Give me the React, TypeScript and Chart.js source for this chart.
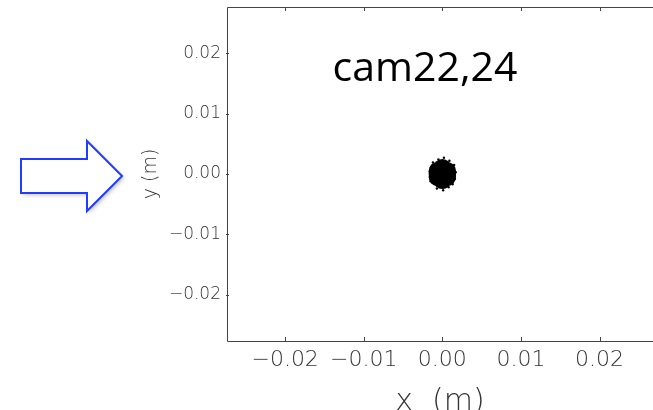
import React, { useEffect, useRef } from "react";
import { Chart, registerables } from "chart.js";

Chart.register(...registerables);

// Axis ranges and ticks (metres)
const xRange = [-0.0274, 0.0268];
const yRange = [-0.0277, 0.0277];
const xTicks = [-0.02, -0.01, 0.0, 0.01, 0.02];
const yTicks = [-0.02, -0.01, 0.0, 0.01, 0.02];

// Dense core of the beam spot
const coreX = [0.0, 0.0, 0.0, 0.0006, -0.0006, 0.0006, -0.0006, 0.0006, -0.0006];
const coreY = [0.0, 0.001, -0.001, 0.0005, 0.0005, -0.0005, -0.0005, 0.0, 0.0];

// Sparse fringe particles around the spot
const fringeX = [0.0002, -0.0012, 0.0015, 0.0016, -0.0015, 0.0001, -0.0016, 0.0017, 0.0008, -0.0007, 0.0009, -0.0005, 0.0013, -0.0013];
const fringeY = [0.0027, 0.0019, 0.0015, -0.0008, -0.0012, -0.0027, 0.0004, 0.0003, -0.0022, -0.0024, 0.0022, 0.0024, -0.0017, 0.0012];

const titleText = "cam22,24";
const xTitle = "x  (m)";
const yTitle = "y (m)";

const fmt = (v: number) => v.toFixed(2).replace("-", "\u2212");

const tickFont = "'DejaVu Sans'";

export default function App() {
  const ref = useRef<HTMLCanvasElement | null>(null);

  useEffect(() => {
    if (!ref.current) return;
    const framePlugin = {
      id: "frame",
      afterDraw(chart: any) {
        const { ctx, chartArea } = chart;
        const { left, right, top, bottom } = chartArea;
        const xs = chart.scales.x;
        const ys = chart.scales.y;
        ctx.save();
        ctx.strokeStyle = "#444";
        ctx.lineWidth = 1;
        ctx.beginPath();
        ctx.moveTo(right + 1, top + 0.5);
        ctx.lineTo(left + 0.5, top + 0.5);
        ctx.lineTo(left + 0.5, bottom + 0.5);
        ctx.lineTo(right + 1, bottom + 0.5);
        ctx.stroke();
        ctx.beginPath();
        xTicks.forEach((v) => {
          const px = Math.round(xs.getPixelForValue(v)) + 0.5;
          ctx.moveTo(px, top);
          ctx.lineTo(px, top + 4);
          ctx.moveTo(px, bottom);
          ctx.lineTo(px, bottom - 4);
        });
        yTicks.forEach((v) => {
          const py = Math.round(ys.getPixelForValue(v)) + 0.5;
          ctx.moveTo(left - 1, py);
          ctx.lineTo(left + 2, py);
        });
        ctx.stroke();

        // Title inside the plot
        ctx.fillStyle = "#000";
        ctx.font = "41px 'Open Sans'";
        ctx.textAlign = "center";
        ctx.textBaseline = "middle";
        ctx.fillText(titleText, 425, 69);

        // Blue outline arrow on the left
        ctx.shadowColor = "rgba(0,0,0,0.25)";
        ctx.shadowBlur = 4;
        ctx.shadowOffsetX = 2;
        ctx.shadowOffsetY = 2;
        ctx.beginPath();
        ctx.moveTo(21, 159);
        ctx.lineTo(87, 159);
        ctx.lineTo(87, 141);
        ctx.lineTo(122, 176);
        ctx.lineTo(87, 211);
        ctx.lineTo(87, 193);
        ctx.lineTo(21, 193);
        ctx.closePath();
        ctx.fillStyle = "#fff";
        ctx.fill();
        ctx.shadowColor = "transparent";
        ctx.strokeStyle = "#1f3cff";
        ctx.lineWidth = 2;
        ctx.stroke();
        ctx.restore();
      },
    };

    const chart = new Chart(ref.current, {
      type: "scatter",
      data: {
        datasets: [
          {
            data: coreX.map((x, i) => ({ x, y: coreY[i] })),
            pointRadius: 9,
            pointBackgroundColor: "#000",
            pointBorderWidth: 0,
            pointHoverRadius: 9,
          },
          {
            data: fringeX.map((x, i) => ({ x, y: fringeY[i] })),
            pointRadius: 1.2,
            pointBackgroundColor: "#000",
            pointBorderWidth: 0,
          },
        ],
      },
      plugins: [framePlugin],
      options: {
        responsive: false,
        animation: false,
        events: [],
        layout: { autoPadding: false, padding: { left: 140, top: 7, right: 0, bottom: 0 } },
        plugins: { legend: { display: false }, tooltip: { enabled: false } },
        scales: {
          x: {
            type: "linear",
            min: xRange[0],
            max: xRange[1],
            afterBuildTicks: (s: any) => {
              s.ticks = xTicks.map((value) => ({ value }));
            },
            afterFit: (s: any) => {
              s.height = 69;
              s.paddingLeft = 0;
              s.paddingRight = 0;
            },
            grid: { display: false, drawTicks: false, tickLength: 0 },
            border: { display: false },
            ticks: {
              padding: 6,
              color: "#333",
              maxRotation: 0,
              autoSkip: false,
              font: { family: tickFont, size: 22, weight: "200" as any },
              callback: (v: any) => fmt(Number(v)),
            },
            title: {
              display: true,
              text: xTitle,
              color: "#333",
              padding: 0,
              font: { family: tickFont, size: 30, weight: "200" as any, lineHeight: 0.5 },
            },
          },
          y: {
            type: "linear",
            min: yRange[0],
            max: yRange[1],
            afterBuildTicks: (s: any) => {
              s.ticks = yTicks.map((value) => ({ value }));
            },
            afterFit: (s: any) => {
              s.width = 87;
              s.paddingTop = 0;
              s.paddingBottom = 0;
            },
            grid: { display: false, drawTicks: false, tickLength: 0 },
            border: { display: false },
            ticks: {
              padding: 6,
              color: "#333",
              autoSkip: false,
              font: { family: tickFont, size: 17, weight: "200" as any },
              callback: (v: any) => fmt(Number(v)),
            },
            title: {
              display: true,
              text: yTitle,
              color: "#333",
              padding: { top: 2, bottom: 0 },
              font: { family: tickFont, size: 19, weight: "200" as any, lineHeight: 1.0 },
            },
          },
        },
      },
    });
    return () => chart.destroy();
  }, []);

  return (
    <div style={{ position: "absolute", left: 0, top: 0, width: 653, height: 410, background: "#fff" }}>
      <canvas ref={ref} width={653} height={410} style={{ display: "block" }} />
    </div>
  );
}
